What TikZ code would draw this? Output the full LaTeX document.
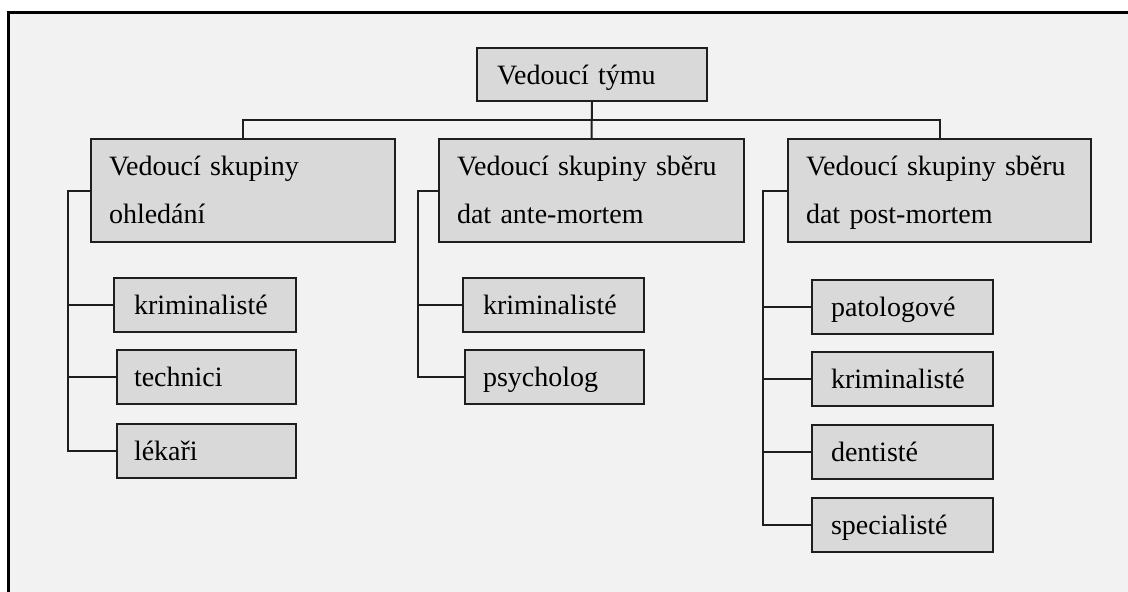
\documentclass[tikz,border=0pt]{standalone}
\usepackage{fontspec}
\setmainfont{Liberation Serif}
\definecolor{bg}{HTML}{F2F2F2}
\definecolor{boxfill}{HTML}{D9D9D9}
\definecolor{ink}{HTML}{1E1E1E}
\begin{document}
\begin{tikzpicture}[x=1pt,y=-1pt,
  box/.style={draw=ink, line width=2pt, fill=boxfill, anchor=north west, align=left,
    inner ysep=0pt, font=\fontsize{28pt}{48pt}\selectfont},
  leaf/.style={box, text height=36pt, text depth=18pt, minimum height=54pt},
  group/.style={box, inner xsep=18pt, text height=36pt, text depth=67pt, minimum height=103pt},
  link/.style={draw=ink, line width=2pt}]
\useasboundingbox (0,0) rectangle (1128,592);
\fill[white] (0,0) rectangle (1128,592);
\fill[bg] (8.5,12.5) rectangle (1140,600);
\draw[line width=3pt] (8.5,605) -- (8.5,12.5) -- (1140,12.5);

% top
\node[box, inner xsep=20pt, text width=190pt, text height=36pt, text depth=17pt, minimum height=53pt] (top) at (476,47) {Vedoucí týmu};

% groups
\node[group, text width=268pt] (g1) at (90,138) {Vedoucí skupiny\\ohledání};
\node[group, text width=269pt] (g2) at (438,138) {Vedoucí skupiny sběru\\dat ante-mortem};
\node[group, text width=267pt] (g3) at (787,138) {Vedoucí skupiny sběru\\dat post-mortem};

% leaves, group 1
\node[leaf, inner xsep=20pt, text width=142pt] (c11) at (113,277) {kriminalisté};
\node[leaf, inner xsep=17pt, text width=145pt] (c12) at (116,349) {technici};
\node[leaf, inner xsep=17pt, text width=145pt] (c13) at (116,423) {lékaři};
% leaves, group 2
\node[leaf, inner xsep=20pt, text width=141pt] (c21) at (462,277) {kriminalisté};
\node[leaf, inner xsep=18pt, text width=143pt] (c22) at (464,349) {psycholog};
% leaves, group 3
\node[leaf, inner xsep=19pt, text width=143pt] (c31) at (811,279) {patologové};
\node[leaf, inner xsep=19pt, text width=143pt] (c32) at (811,351) {kriminalisté};
\node[leaf, inner xsep=19pt, text width=143pt] (c33) at (811,424) {dentisté};
\node[leaf, inner xsep=19pt, text width=143pt] (c34) at (811,497) {specialisté};

% top connectors
\coordinate (bus) at (591,120);
\draw[link] (top.south) -- (g2.north);
\draw[link] (g1.north) |- (bus) -| (g3.north);

% spines
\coordinate (s1) at (68,0);
\coordinate (s2) at (418,0);
\coordinate (s3) at (763,0);
\draw[link] (g1.west) -- (g1.west -| s1) |- (c13.west);
\draw[link] (c11.west) -- (c11.west -| s1);
\draw[link] (c12.west) -- (c12.west -| s1);
\draw[link] (g2.west) -- (g2.west -| s2) |- (c22.west);
\draw[link] (c21.west) -- (c21.west -| s2);
\draw[link] (g3.west) -- (g3.west -| s3) |- (c34.west);
\draw[link] (c31.west) -- (c31.west -| s3);
\draw[link] (c32.west) -- (c32.west -| s3);
\draw[link] (c33.west) -- (c33.west -| s3);
\end{tikzpicture}
\end{document}
